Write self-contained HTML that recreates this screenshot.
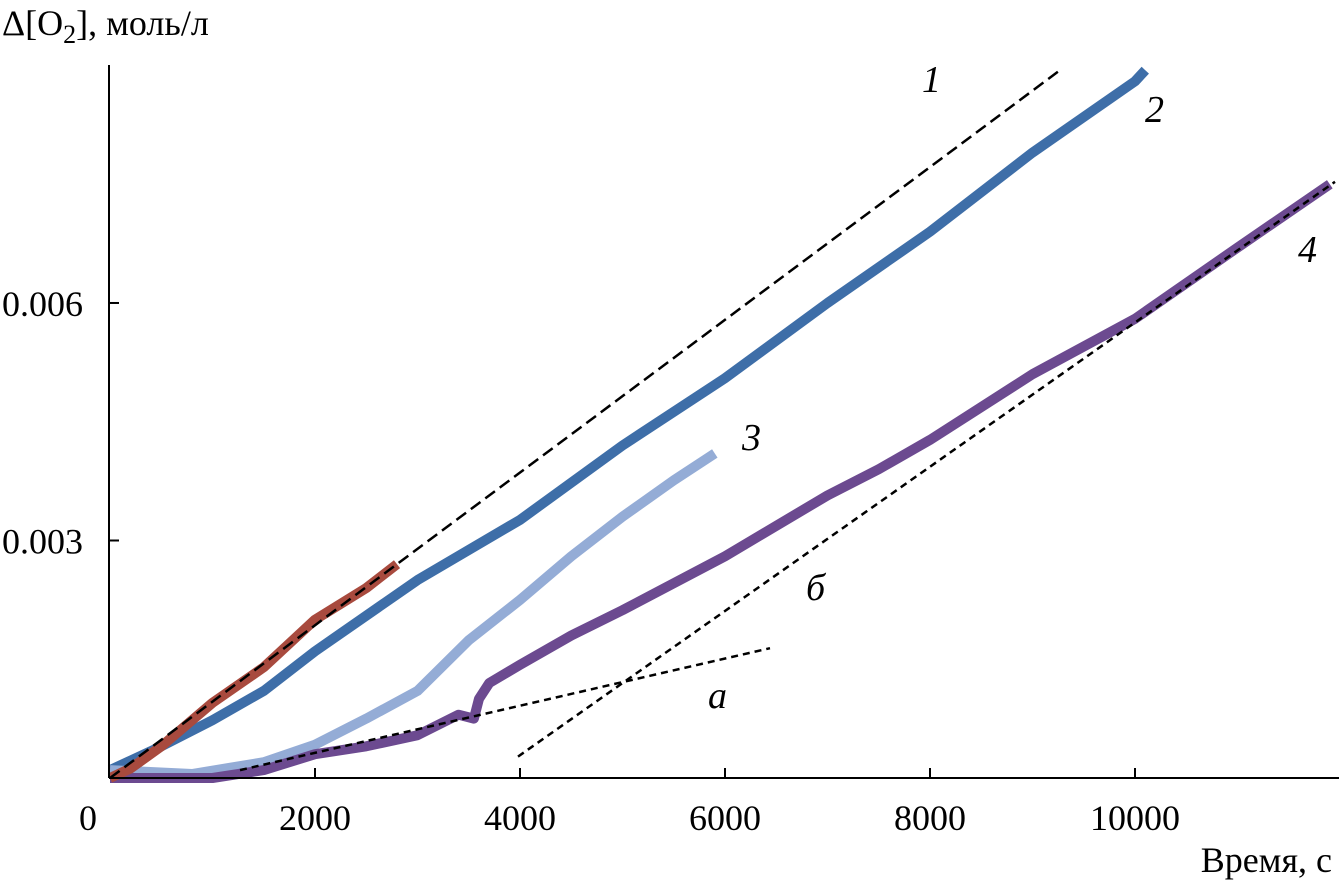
<!DOCTYPE html>
<html><head><meta charset="utf-8"><style>
body{margin:0;background:#fff}
svg{display:block;font-family:"Liberation Serif",serif}
</style></head><body>
<svg id="chart" width="1339" height="887" viewBox="0 0 1339 887">
<g id="marks"></g>
<line x1="109" y1="65" x2="109" y2="778" stroke="#000" stroke-width="2"/>
<line x1="109" y1="778" x2="1339" y2="778" stroke="#000" stroke-width="2"/>
<g id="ticks" font-size="36"></g>
<text x="2" y="35" font-size="36">Δ[O<tspan font-size="26" dy="8">2</tspan><tspan dy="-8">], моль/л</tspan></text>
<text x="1332" y="872" font-size="36" text-anchor="end">Время, с</text>
<g font-size="38" font-style="italic">
<text x="922" y="92">1</text>
<text x="1145" y="122">2</text>
<text x="742" y="450">3</text>
<text x="1298" y="262">4</text>
<text x="806" y="600">б</text>
<text x="708" y="708">а</text>
</g>
</svg>
<script>
const xTicks=[0,2000,4000,6000,8000,10000];
const yTicks=[0.003,0.006];
const t1=[0,200,500,1000,1500,2000,2500,2800];
const v1=[0,0.00012,0.0004,0.00095,0.0014,0.002,0.0024,0.0027];
const t2=[0,500,1000,1500,2000,3000,4000,5000,6000,7000,8000,9000,10000,10100];
const v2=[0.0001,0.0004,0.00073,0.0011,0.0016,0.0025,0.00326,0.0042,0.00505,0.006,0.0069,0.0079,0.0088,0.00894];
const t3=[0,800,1500,2000,2500,3000,3500,4000,4500,5000,5500,5900];
const v3=[0.0001,0.00005,0.0002,0.00042,0.00075,0.0011,0.00174,0.00225,0.0028,0.0033,0.00376,0.0041];
const t4=[0,1000,1500,2000,2500,3000,3400,3550,3600,3700,4000,4500,5000,6000,7000,7500,8000,9000,10000,11000,11900];
const v4=[0,0,0.0001,0.0003,0.0004,0.00054,0.0008,0.00075,0.001,0.0012,0.00143,0.0018,0.00212,0.0028,0.00357,0.0039,0.00427,0.0051,0.0058,0.0067,0.0075];
const tD1=[0,9268];const vD1=[0,0.00894];
const tDa=[1268,6439];const vDa=[0.0001,0.00164];
const tDb=[3980,11951];const vDb=[0.00027,0.00753];
const X=t=>110+t*0.1025;
const Y=v=>778-v*79170;
const NS="http://www.w3.org/2000/svg";
const marks=document.getElementById('marks');
function path(ts,vs,color,w,dash,name){
  const p=document.createElementNS(NS,'path');
  p.setAttribute('d',ts.map((t,i)=>(i?'L':'M')+X(t).toFixed(1)+' '+Y(vs[i]).toFixed(1)).join(''));
  p.setAttribute('fill','none');p.setAttribute('stroke',color);p.setAttribute('stroke-width',w);
  p.setAttribute('stroke-linejoin','round');
  if(dash)p.setAttribute('stroke-dasharray',dash);
  
  
  marks.appendChild(p);
}
path(t2,v2,'#3e6ea8',10,null,'series-2');
path(t3,v3,'#94acd6',10,null,'series-3');
path(t4,v4,'#6c4a90',10,null,'series-4');
path(t1,v1,'#a84a3e',10,null,'series-1');
path(tD1,vD1,'#000',2.5,'12 6','fit-line-1');
path(tDa,vDa,'#000',2.5,'7 5','fit-line-a');
path(tDb,vDb,'#000',2.5,'7 5','fit-line-b');
const tg=document.getElementById('ticks');
xTicks.forEach(t=>{
  const tx=document.createElementNS(NS,'text');
  tx.setAttribute('x',t===0?88:X(t));tx.setAttribute('y',830);tx.setAttribute('text-anchor','middle');
  tx.textContent=t;
  
  
  tg.appendChild(tx);
  if(t>0){const l=document.createElementNS(NS,'line');
  l.setAttribute('x1',X(t));l.setAttribute('x2',X(t));l.setAttribute('y1',768);l.setAttribute('y2',778);l.setAttribute('stroke','#000');l.setAttribute('stroke-width',2);
  
  
  tg.appendChild(l);}
});
yTicks.forEach(v=>{
  const tx=document.createElementNS(NS,'text');
  tx.setAttribute('x',2);tx.setAttribute('y',Y(v)+13);
  tx.textContent=v.toFixed(3);
  
  
  tg.appendChild(tx);
  const l=document.createElementNS(NS,'line');
  l.setAttribute('x1',109);l.setAttribute('x2',119);l.setAttribute('y1',Y(v));l.setAttribute('y2',Y(v));l.setAttribute('stroke','#000');l.setAttribute('stroke-width',2);
  
  
  tg.appendChild(l);
});
</script>
</body></html>
